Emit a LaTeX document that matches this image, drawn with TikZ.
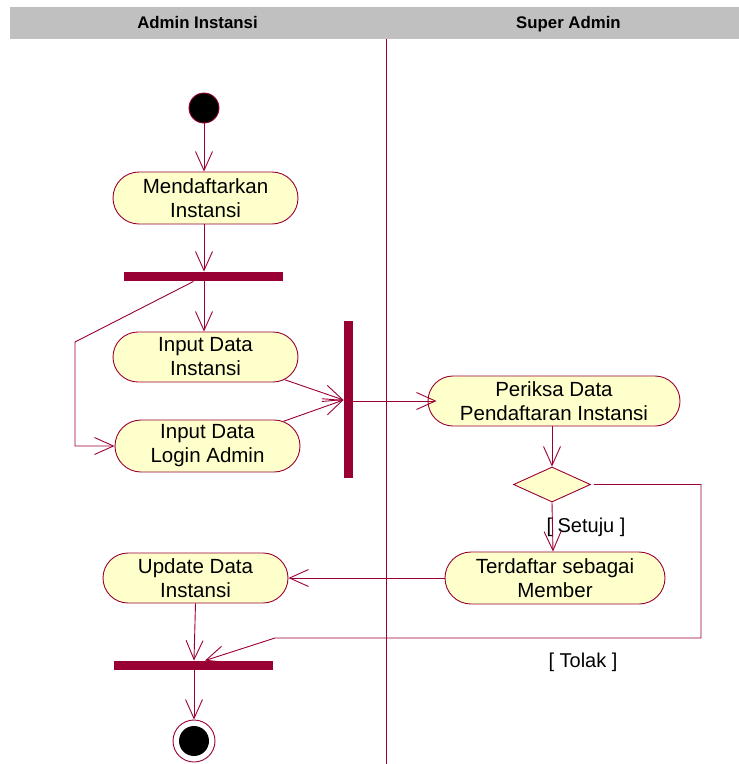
\documentclass[tikz,border=0pt]{standalone}
\usepackage{fontspec}
\setmainfont{Liberation Sans}
\usetikzlibrary{shapes.misc,shapes.geometric,arrows.meta}
\definecolor{umlred}{RGB}{153,0,51}
\definecolor{umlfill}{RGB}{255,255,204}
\definecolor{lanegray}{RGB}{192,192,192}
\tikzstyle{activity} = [draw=umlred, fill=umlfill, rounded rectangle,
    inner sep=0pt, minimum height=51pt, align=center,
    font=\fontsize{20.5}{24}\selectfont]
\tikzstyle{bar} = [fill=umlred, inner sep=0pt]
\tikzstyle{flow} = [draw=umlred, -{Straight Barb[length=19pt,width=17pt]}]
\tikzstyle{guard} = [font=\fontsize{20}{24}\selectfont]
\tikzstyle{lanetitle} = [anchor=base, font=\fontsize{16.8}{20}\selectfont\bfseries]

\begin{document}
\begin{tikzpicture}[x=1pt, y=-1pt, line width=0.9pt]
                \useasboundingbox (0,0) rectangle (739,764);
                \fill[lanegray] (10,7) rectangle (739,39);
                \node[lanetitle] (lane1) at (197.5,28.5) {Admin Instansi};
                \node[lanetitle] (lane2) at (568.5,28.5) {Super Admin};
                \draw[umlred] (386,39) -- (386,764);
                \node[circle, fill=black, draw=umlred, minimum size=30pt, inner sep=0pt] (start) at (204,108) {};
                \node[activity, minimum width=185pt, minimum height=52pt] (daftar) at (205.5,198) {Mendaftarkan\\Instansi};
                \node[bar, minimum width=159pt, minimum height=9pt] (fork) at (203.5,276.5) {};
                \node[activity, minimum width=185pt, minimum height=50pt] (inputInstansi) at (205.5,357) {Input Data\\Instansi};
                \node[activity, minimum width=185pt, minimum height=52pt] (inputLogin) at (207.5,446) {Input Data\\Login Admin};
                \node[bar, minimum width=9pt, minimum height=157pt] (join) at (348.5,399.5) {};
                \node[activity, minimum width=252pt, minimum height=50pt] (periksa) at (554,401) {Periksa Data\\Pendaftaran Instansi};
                \node[diamond, draw=umlred, fill=umlfill, inner sep=0pt, minimum width=77pt, minimum height=35pt] (cek) at (552,484.5) {};
                \node[activity, minimum width=220pt, minimum height=52pt] (terdaftar) at (555,578) {Terdaftar sebagai\\Member};
                \node[activity, minimum width=185pt, minimum height=50pt] (update) at (195.5,578) {Update Data\\Instansi};
                \node[bar, minimum width=159pt, minimum height=9pt] (join2) at (193.5,665.5) {};
                \node[circle, draw=umlred, fill=white, minimum size=42pt, inner sep=0pt] (stop) at (194,741) {};
                \node[circle, fill=black, minimum size=30pt, inner sep=0pt] (stopdot) at (stop) {};
                \node[guard] (setuju) at (586,527) {[ Setuju ]};
                \node[guard] (tolak) at (583,662) {[ Tolak ]};
                \draw[flow] (start.south) -- (start.south |- daftar.north);
                \draw[flow] (daftar.south -| start) -- (start |- fork.north);
                \draw[flow] (fork.south -| start) -- (start |- inputInstansi.north);
                \draw[flow] ([xshift=-10pt]fork.south) -- (75,342) |- (inputLogin.west);
                \draw[flow] (inputInstansi.-16) -- ([yshift=-0.5pt]join.west);
                \draw[flow] (inputLogin.18) -- ([yshift=-0.5pt]join.west);
                \draw[flow] (join.east |- periksa.west) -- ([xshift=9pt]periksa.west);
                \draw[flow] (periksa.south -| cek) -- (cek.north);
                \draw[flow] (cek.south) -- ([xshift=1pt]cek.south |- terdaftar.north);
                \draw[flow] ([xshift=3pt]cek.east) -| (701,638) -- (275,638) -- ([xshift=11.5pt]join2.north);
                \draw[flow] (terdaftar.west) -- (update.east);
                \draw[flow] (update.south) -- (stop |- join2.north);
                \draw[flow] (join2.south -| stop) -- (stop.north);
            \end{tikzpicture}
\end{document}
